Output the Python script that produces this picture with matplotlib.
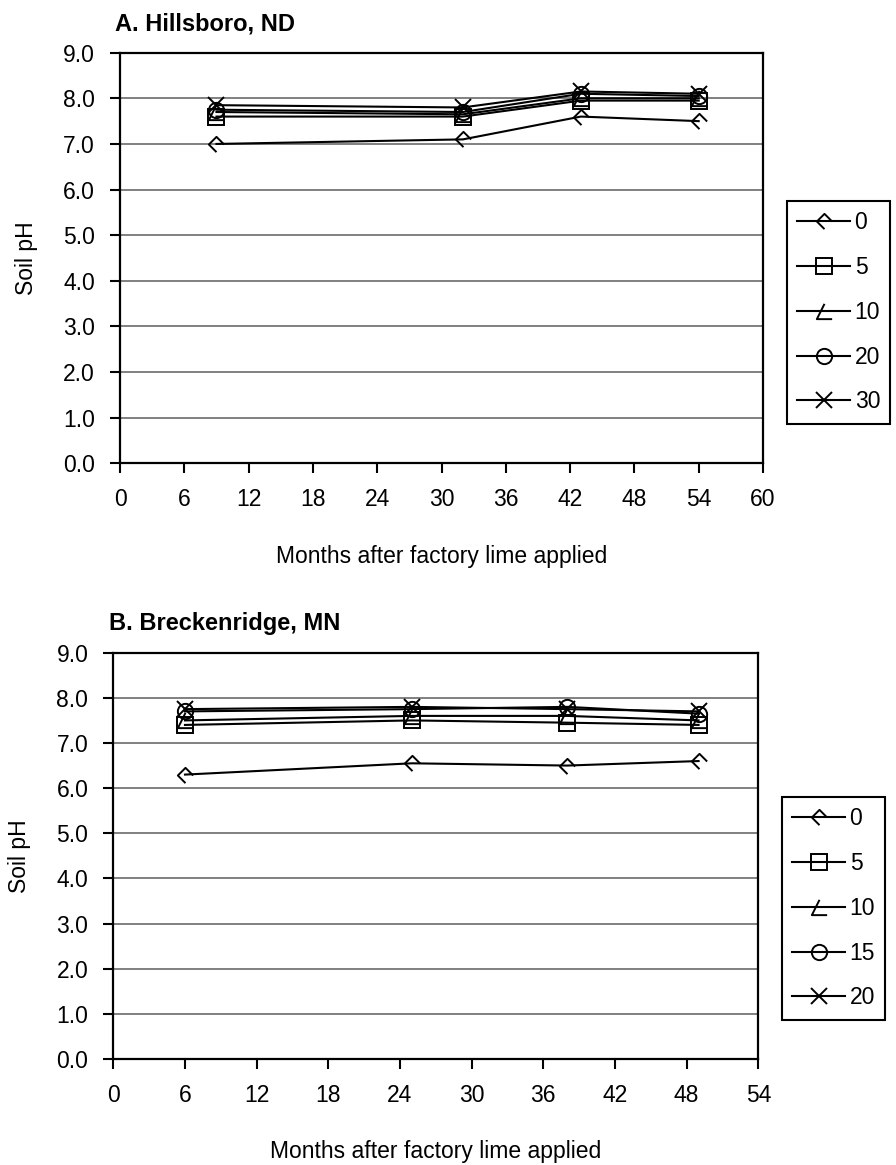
import numpy as np
import matplotlib
matplotlib.use("Agg")
from matplotlib import pyplot as plt
from matplotlib.path import Path

plt.rcParams['font.family'] = ['Liberation Sans', 'DejaVu Sans']

# A. Hillsboro, ND
months_a = [9, 32, 43, 54]
labels_a = ["0", "5", "10", "20", "30"]
ph_a_0 = [7.0, 7.1, 7.6, 7.5]
ph_a_5 = [7.6, 7.6, 7.95, 7.95]
ph_a_10 = [7.7, 7.65, 8.0, 8.0]
ph_a_20 = [7.75, 7.7, 8.1, 8.05]
ph_a_30 = [7.85, 7.8, 8.15, 8.1]

# B. Breckenridge, MN
months_b = [6, 25, 38, 49]
labels_b = ["0", "5", "10", "15", "20"]
ph_b_0 = [6.3, 6.55, 6.5, 6.6]
ph_b_5 = [7.4, 7.5, 7.45, 7.4]
ph_b_10 = [7.5, 7.6, 7.6, 7.5]
ph_b_15 = [7.7, 7.75, 7.8, 7.65]
ph_b_20 = [7.75, 7.8, 7.75, 7.7]

W, H = 896, 1165

# excel-ish open markers (drawn with one edge missing)
M, L = Path.MOVETO, Path.LINETO
diamond = Path([(1, 0), (0, 1), (-1, 0), (0, -1)], [M, L, L, L])
tri = Path([(0, 1), (-1, -1), (1, -1)], [M, L, L])
markers = [diamond, "s", tri, "o", "x"]


def panel(ax, months, series, labels, xmax, title, title_px, title_base, leg_px, leg_top):
    for vals, lab, mk in zip(series, labels, markers):
        ax.plot(months, vals, color="black", lw=1.5, marker=mk, ms=11,
                mfc="none", mec="black", mew=1.4, label=lab)
    ax.set_xlim(0, xmax)
    ax.set_ylim(0, 9)
    ax.set_xticks(np.arange(0, xmax + 1, 6))
    ax.set_yticks(np.arange(0, 9.5, 1))
    ax.yaxis.set_major_formatter("{x:.1f}")
    ax.grid(axis="y", color="#808080", lw=1.4)
    ax.set_axisbelow(True)
    for s in ax.spines.values():
        s.set_linewidth(1.6)
        s.set_color("black")
    ax.tick_params(direction="out", length=7, width=1.5, labelsize=16.5, pad=11)
    ax.set_ylabel("Soil pH", fontsize=16.5, labelpad=18)
    ax.set_xlabel("Months after factory lime applied", fontsize=16.5, labelpad=24)
    fig.text(title_px / W, 1 - title_base / H, title, fontsize=17,
             fontweight="bold", va="baseline", ha="left")
    leg = ax.legend(loc="upper left", bbox_to_anchor=(leg_px / W, 1 - leg_top / H),
                    bbox_transform=fig.transFigure, borderaxespad=0,
                    fontsize=16.5, handlelength=2.3, handletextpad=0.2,
                    labelspacing=0.95, borderpad=0.45, fancybox=False,
                    framealpha=1, edgecolor="black")
    leg.get_frame().set_linewidth(1.5)


fig = plt.figure(figsize=(W / 100, H / 100), dpi=100)

ax1 = fig.add_axes([120 / W, 1 - 463.3 / H, 643 / W, 410.6 / H])
panel(ax1, months_a, [ph_a_0, ph_a_5, ph_a_10, ph_a_20, ph_a_30], labels_a, 60,
      "A. Hillsboro, ND", 115, 31, 787, 201)

ax2 = fig.add_axes([113.3 / W, 1 - 1059 / H, 645 / W, 406.3 / H])
panel(ax2, months_b, [ph_b_0, ph_b_5, ph_b_10, ph_b_15, ph_b_20], labels_b, 54,
      "B. Breckenridge, MN", 109, 630, 782, 797)

fig.savefig("out.png", dpi=100)
